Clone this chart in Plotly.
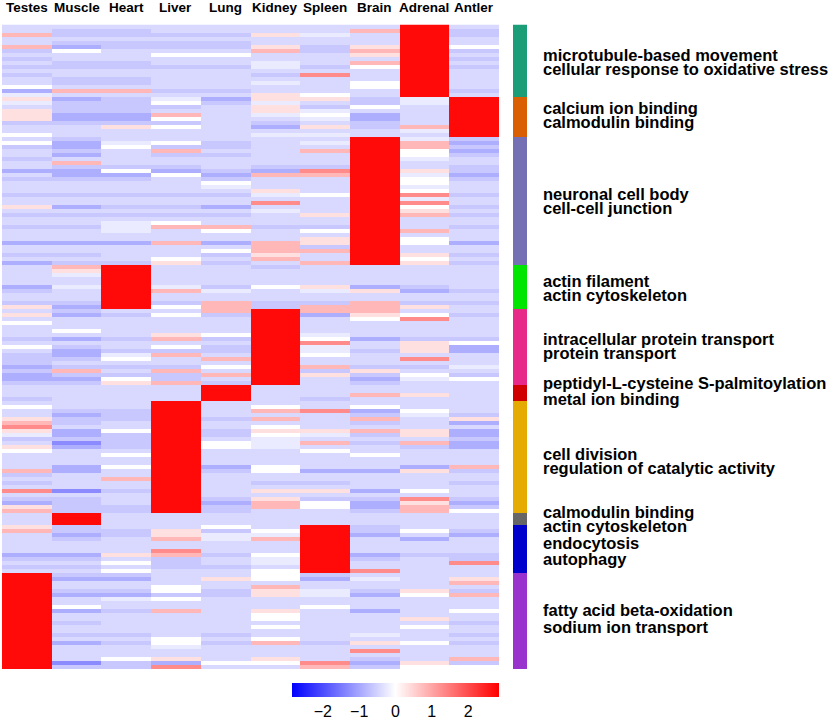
import plotly.graph_objects as go

tissues = ["Testes", "Muscle", "Heart", "Liver", "Lung",
           "Kidney", "Spleen", "Brain", "Adrenal", "Antler"]

# z-score coded by letter
levels = {"a": -1.3, "b": -0.9, "c": -0.62, "d": -0.43, "e": -0.22,
          "f": 0.0, "g": 0.35, "h": 0.8, "i": 1.3, "R": 2.75}

# one string per gene row, columns in the order of `tissues`
adrenal_rows = [
    "ddddddddRd", "dccddddhRc", "hccccgedRc", "ddddddddRd", "dccccdddRd",
    "hbcccgcgRf", "cfdddhchRc", "dddffddgRd", "cdddddddRc", "dccddedhRd",
    "cccccecfRc", "ddddddddRd", "cddddcidRd", "dccdddddRd", "dccddedfRd",
    "fddddddfRd", "bhhccdddRc", "eddddgfdRd",
]
antler_rows = [
    "gbcebggceR", "eccfcedceR", "dcccdgcfdR", "gccddgeddR", "gbbhdefbdR",
    "gbbfddebdR", "ccccdcdcdR", "ddgfdbgchR", "ddddddddeR", "fddddeeddR",
]
brain_rows = [
    "dcdddddRec", "fbefcdeRhb", "cbfccddRhc", "dcdhddhRfb", "dbdccddRfc",
    "cddddddRed", "dhdddddRdd", "dcccdccRdc", "bbfbcbiRgc", "dbbfbhhReb",
    "cccdcddRfc", "ddddfddRfd", "ddddeddRed", "dddddgdRfd", "cccccefRic",
    "dddddddRed", "dddddidRid", "gbccbddRfc", "dddddedRgd", "cccccdgRhc",
    "dddddddRdd", "ddefdddRdd", "ccehhccRdc", "ddedfdfRhd", "dddddddRdd",
    "ddddddgRfd", "bbbhbhgRfb", "dddddhcRdd", "ddddfhhRdd", "ccddcgdRgc",
    "dddfdhdRfd", "bccgcdhRgc",
]
heart_rows = [
    "dhRddcdddd", "dgRddddddd", "deRddddddd", "ddRddddddd", "ddRddddddd",
    "beRecfgbcd", "cdRhedegbc", "ddRddddddd", "ddRddddddd", "ccRchcchcc",
    "gbRfhchhgd",
]
kidney_rows = [
    "dcddhRhhdd", "gbcfcRbgfc", "dddddRdfid", "fddddRdddd", "dddddRdddd",
    "dfdddRdddd", "dddgfReddd", "cbchcRfbcc", "dddddRidgf", "fcdfcRedgb",
    "dbcccRecgb", "cbehdRfddd", "ccfdhRddid", "cddddRdddd", "bcccfRhcce",
    "chdhdRcgdd", "bccchRgcfc", "bbfcdRdbef", "ccghcRdcdd",
]
lung_rows = [
    "ddddRddddd", "ddddRddddd", "ddddRddhgd", "cdddRdcddd",
]
liver_rows = [
    "dddRdddddd", "fddRdfdfdd", "dccRdhibfd", "dbcRdddcec", "gccRchdhdg",
    "hcdRdddcdb", "iddRdfdddd", "gbfRcgghgb", "ebcRcfecgb", "cccRdedddc",
    "dacRfehchb", "gbcRfeddcb", "fddRddfddd", "ddfRdddfdd", "dddRdddddd",
    "dddRdddddd", "dbfRbfddbh", "hbdRcfbbgc", "cddRdddddd", "ddhRdddddd",
    "cddRdccddc", "dddRdddddd", "iacRdggbfd", "dddRdddddd", "ccdRcgccic",
    "bcdRbhfbgb", "gccRchfbhc", "hccRcddchf",
]
muscle_rows = [
    "dRdddddddd", "dRdddddddd", "dRdddddddd",
]
spleen_rows = [
    "gcddfdRcdd", "hccgcfRcfc", "dbcgeeRbdb", "dcdhehRdbd", "ddddddRddd",
    "ddddddRddd", "dddiddRddd", "bbghcfRbcc", "ccdcdeRcdc", "ddfcdeRddi",
    "ccdccdRddd", "ddfddfRidd",
]
testes_rows = [
    "Rccddfcddd", "Rbbdgfbedg", "Rddddddddh", "Rddfdhdddd", "Rccfcgecgc",
    "Rbbccgebfh", "Rdefdddddd", "Rddddddddd", "Rfddddfddd", "Rbchdgdbdf",
    "Rddddfdddd", "Rddddfddgd", "Rcdddddddc", "Rddddfddfd", "Rddddddddd",
    "Rccdcddedc", "Rddfdfdddd", "Rbcfchcgfc", "Rddedddddd", "Rddddddidd",
    "Rddddddddd", "Rdfgdgdcdh", "Racbffibgc", "Rcciddhcff",
]

cluster_rows = [adrenal_rows, antler_rows, brain_rows, heart_rows, kidney_rows,
                lung_rows, liver_rows, muscle_rows, spleen_rows, testes_rows]
cluster_colors = ["#1B9E77", "#D95F02", "#7570B3", "#00E600", "#E7298A",
                  "#D00000", "#E6AB02", "#666666", "#0000CD", "#9A32CD"]
go_terms = [
    ("microtubule-based movement", "cellular response to oxidative stress"),
    ("calcium ion binding", "calmodulin binding"),
    ("neuronal cell body", "cell-cell junction"),
    ("actin filament", "actin cytoskeleton"),
    ("intracellular protein transport", "protein transport"),
    ("peptidyl-L-cysteine S-palmitoylation", "metal ion binding"),
    ("cell division", "regulation of catalytic activity"),
    ("calmodulin binding", "actin cytoskeleton"),
    ("endocytosis", "autophagy"),
    ("fatty acid beta-oxidation", "sodium ion transport"),
]
# label placement tweaks in pixels: (shift down, line gap)
label_tweak = [(1, 14), (-2, 14), (0, 14), (1, 14), (-1, 14),
               (-2, 16), (4.5, 14), (0, 13.5), (2, 16), (-2, 17)]

z = []
side = []
starts = []
for k, rows in enumerate(cluster_rows):
    starts.append(len(z))
    for r in rows:
        z.append([levels[ch] for ch in r])
        side.append([k])
n_rows = len(z)
row_idx = list(range(n_rows))

W, H = 829, 720
top_px, bot_px = 24.5, 669
font = "Liberation Sans, Arial, sans-serif"

fig = go.Figure()
fig.add_trace(go.Heatmap(
    z=z, x=tissues, y=row_idx,
    colorscale=[[0, "#0000FF"], [0.5, "#FFFFFF"], [1, "#FF0000"]],
    zmin=-2.85, zmax=2.85,
    colorbar=dict(
        orientation="h",
        x=395.5 / W, xanchor="center", xpad=0,
        y=1 - 683 / H, yanchor="top", ypad=0,
        lenmode="pixels", len=207, thickness=14,
        outlinewidth=0, tickvals=[-2, -1, 0, 1, 2],
        ticks="outside", ticklen=1, tickcolor="rgba(0,0,0,0)",
        tickfont=dict(family=font, size=16, color="black"),
    ),
))

n_cl = len(cluster_colors)
side_scale = []
for k, c in enumerate(cluster_colors):
    side_scale.append([k / n_cl, c])
    side_scale.append([(k + 1) / n_cl, c])
fig.add_trace(go.Heatmap(
    z=side, x=[0], y=row_idx, xaxis="x2",
    colorscale=side_scale, zmin=-0.5, zmax=n_cl - 0.5,
    showscale=False, hoverinfo="skip",
))

annotations = []
for t in tissues:
    annotations.append(dict(
        x=t, y=1 - 8 / H, xref="x", yref="paper", text=t, showarrow=False,
        xanchor="center", yanchor="middle",
        font=dict(family=font, size=13.5, color="black", weight="bold"),
    ))
for k, (l1, l2) in enumerate(go_terms):
    centre = starts[k] + len(cluster_rows[k]) / 2 - 0.5
    down, gap = label_tweak[k]
    for line, shift in ((l1, gap / 2 - down), (l2, -gap / 2 - down)):
        annotations.append(dict(
            x=541 / W, y=centre, xref="paper", yref="y", text=line,
            showarrow=False, xanchor="left", yanchor="middle", yshift=shift,
            font=dict(family=font, size=16.5, color="black", weight="bold"),
        ))

fig.update_layout(
    width=W, height=H,
    margin=dict(l=0, r=0, t=0, b=0, autoexpand=False),
    paper_bgcolor="white", plot_bgcolor="white",
    xaxis=dict(domain=[2 / W, 499 / W], showticklabels=False, showgrid=False,
               zeroline=False, ticks=""),
    xaxis2=dict(domain=[513 / W, 527 / W], anchor="y", showticklabels=False,
                showgrid=False, zeroline=False),
    yaxis=dict(domain=[1 - bot_px / H, 1 - top_px / H], autorange="reversed",
               showticklabels=False, showgrid=False, zeroline=False),
    annotations=annotations,
    showlegend=False,
)

# drop the page's default 8px body margin so the figure sits at 0,0
fig.write_html("out.html", config={"displayModeBar": False},
               post_script="document.body.style.margin='0';")
